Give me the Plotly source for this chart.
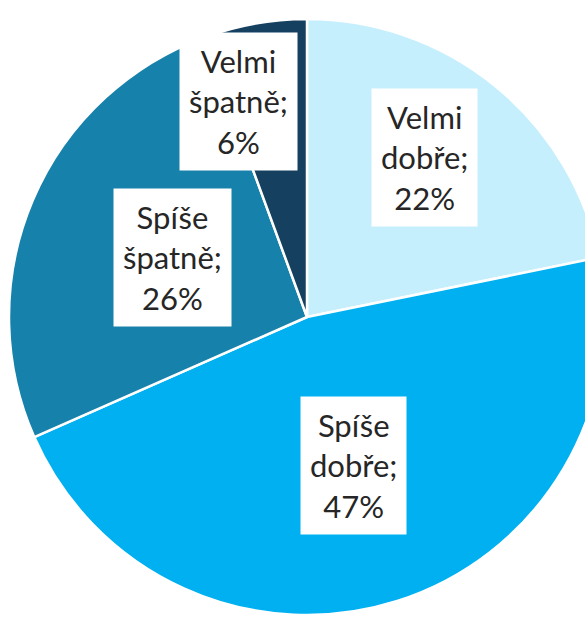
import math
import plotly.graph_objects as go

# ---- data ----
categories = ["Velmi dobře", "Spíše dobře", "Spíše špatně", "Velmi špatně"]
values = [21.8, 46.6, 26.0, 5.6]
colors = ["#C6EFFD", "#00B0F0", "#1681AB", "#164060"]

# ---- style / layout (pixels) ----
W, H = 620, 621
CX, CY, R = 307, 317, 298          # pie centre and radius in px
label_r = [0.665, 0.522, 0.492, 0.759]   # radial position of label boxes (fraction of R)
label_nudge = [-2.8, 0.2, 0.9, -7.5]     # angular nudge (deg) of label boxes

fig = go.Figure(go.Pie(
    labels=categories,
    values=values,
    sort=False,
    direction="clockwise",
    rotation=0,
    textinfo="none",
    hoverinfo="skip",
    marker=dict(colors=colors, line=dict(color="white", width=2.5)),
    domain=dict(x=[(CX - R) / W, (CX + R) / W],
                y=[1 - (CY + R) / H, 1 - (CY - R) / H]),
    showlegend=False,
))

total = sum(values)
cum = 0.0
for cat, v, rf, nd in zip(categories, values, label_r, label_nudge):
    mid = (cum + v / 2) / total * 360 + nd
    cum += v
    px = CX + rf * R * math.sin(math.radians(mid))
    py = CY - rf * R * math.cos(math.radians(mid))
    words = cat.split(" ")
    txt = "<br>".join(words[:-1] + [words[-1] + ";"]) + "<br>" + f"{v:.0f}%"
    fig.add_annotation(
        x=px / W, y=1 - py / H, xref="paper", yref="paper",
        text=txt, showarrow=False,
        font=dict(family="Lato, 'Liberation Sans', sans-serif", size=31, color="#262626"),
        bgcolor="white", borderpad=9, align="center",
        xanchor="center", yanchor="middle",
    )

fig.update_layout(
    width=W, height=H,
    margin=dict(l=0, r=0, t=0, b=0),
    paper_bgcolor="white",
    plot_bgcolor="white",
)

fig.write_html(
    "out.html",
    config={"displayModeBar": False},
    post_script="document.body.style.margin='0';document.body.style.overflow='hidden';",
)
